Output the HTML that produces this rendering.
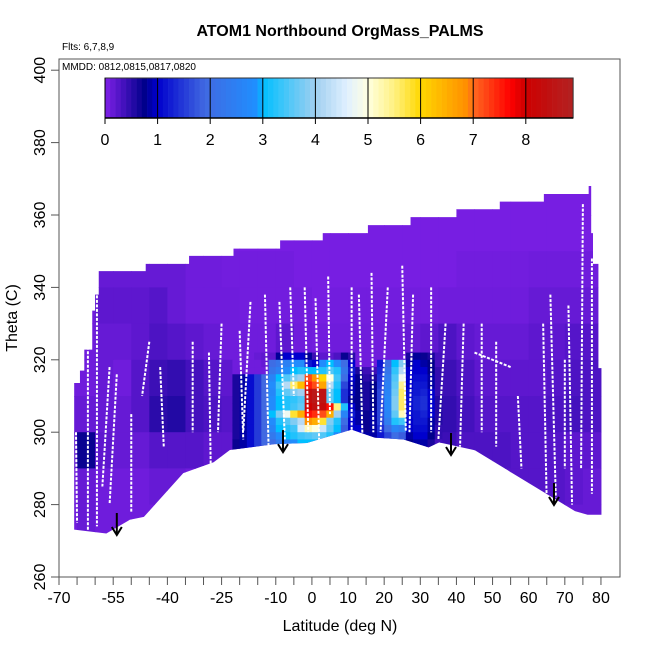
<!DOCTYPE html>
<html><head><meta charset="utf-8">
<style>
html,body{margin:0;padding:0;background:#fff;}
svg{display:block;font-family:"Liberation Sans",Arial,sans-serif;}
</style></head>
<body>
<svg id="chart" width="650" height="650" viewBox="0 0 650 650" xmlns="http://www.w3.org/2000/svg">
<text x="340" y="36" font-size="16" font-weight="bold" text-anchor="middle">ATOM1 Northbound OrgMass_PALMS</text>
<text x="62" y="50" font-size="10">Flts: 6,7,8,9</text>
<rect x="59" y="59" width="561" height="518" fill="none" stroke="#555" stroke-width="1"/>
<text x="62" y="70" font-size="10">MMDD: 0812,0815,0817,0820</text>
<g id="heat" clip-path="url(#env)"></g>
<g id="traces" clip-path="url(#env)"></g>
<g id="arrows"></g>
<g id="cbar"></g>
<g id="axes"></g>
<text transform="translate(17,318) rotate(-90)" font-size="16" text-anchor="middle">Theta (C)</text>
<text x="340" y="631" font-size="16" text-anchor="middle">Latitude (deg N)</text>
<defs><clipPath id="env"><path id="envPath" d=""/></clipPath></defs>
</svg>
<script>
// ---- data ----
const stepLat = [-65.8,-64.2,-63,-60.8,-60,-59,-46,-34,-21.7,-8.8,3,15.5,27.3,40,52,64.2,76.6,77.3,77.8,79.3];
const stepTheta = [313.6,317,322.8,333.6,338,344.5,346.5,348.7,350.7,353,355,357.2,359.4,361.6,363.7,365.8,368,355,346.5,317.7];
const stepEndLat = 80.3;
const botLat = [80.3,76.3,72.8,45.1,35.2,32.3,25.4,17.4,11.0,-1.4,-10.3,-22.7,-27.2,-35.6,-46.5,-50.4,-56.9,-65.8];
const botTheta = [277.2,277.2,278.2,295.0,297.2,295.8,298.0,298.5,300.7,297.0,296.7,295.1,291.7,288.7,276.6,275.8,272.0,273.1];
const bgLatStart = -70, bgLatStep = 5, bgThetaTop = 370, bgThetaStep = 10;
const bgVals = [
[.05,.05,.05,.05,.05,.05,.05,.05,.05,.05,.05,.05,.05,.05,.05,.05,.05,.05,.05,.05,.05,.05,.05,.05,.05,.05,.05,.05,.05,.05],
[.05,.05,.05,.05,.05,.05,.05,.05,.05,.05,.05,.05,.05,.05,.05,.05,.05,.05,.05,.05,.05,.05,.05,.05,.05,.05,.05,.05,.05,.05],
[.1,.1,.15,.15,.15,.15,.15,.1,.1,.08,.08,.08,.08,.05,.05,.05,.05,.05,.05,.05,.05,.05,.08,.08,.08,.08,.1,.1,.1,.1],
[.1,.1,.2,.2,.2,.25,.15,.1,.1,.1,.08,.08,.08,.08,.05,.08,.08,.08,.08,.08,.08,.1,.1,.1,.1,.1,.15,.15,.15,.15],
[.1,.1,.15,.15,.2,.3,.25,.2,.15,.1,.1,.1,.2,.1,.08,.1,.1,.1,.1,.15,.2,.3,.2,.15,.15,.15,.2,.2,.25,.25],
[.1,.1,.15,.1,.25,.4,.45,.35,.25,.2,.1,.1,.15,.1,.1,.1,.15,.2,.2,.3,.35,.4,.3,.2,.2,.2,.2,.25,.3,.3],
[.15,.15,.15,.15,.25,.5,.55,.35,.3,.25,.15,.15,.15,.1,.1,.15,.2,.25,.3,.35,.4,.45,.35,.25,.25,.25,.25,.3,.35,.3],
[.2,.7,.2,.15,.15,.25,.25,.25,.2,.2,.15,.15,.15,.15,.15,.15,.2,.25,.3,.35,.35,.4,.3,.3,.3,.25,.25,.25,.2,.2],
[.1,.15,.1,.1,.1,.15,.15,.1,.1,.1,.1,.1,.1,.1,.1,.1,.1,.1,.1,.1,.1,.15,.25,.25,.25,.25,.25,.25,.2,.15],
[.1,.15,.1,.1,.1,.1,.1,.1,.1,.1,.1,.1,.1,.1,.1,.1,.1,.1,.1,.1,.1,.1,.1,.1,.1,.1,.15,.15,.15,.15]
];
const coreLatStart = -22, coreLatStep = 2, coreThetaTop = 322, coreThetaStep = 2;
const coreCols = [
[.1,.1,.1,.6,.6,.6,.6,.6,.6,.6,.6,.6,.7,.7],
[.1,.1,.1,.85,.85,.85,.85,.85,.85,.85,.85,.85,.85,.85],
[.1,.1,.1,1.1,1.1,1.1,1.1,1.1,1.1,1.1,1.1,1.1,1.1,1.1],
[.15,.1,.1,1.5,1.5,1.5,1.5,1.5,1.5,1.5,1.5,1.5,1.5,1.5],
[.2,.15,.1,1.9,1.9,1.9,1.9,1.9,1.9,1.9,1.9,1.9,1.9,1.9],
[.2,2.0,2.2,2.6,2.8,2.7,2.8,2.8,3.0,2.8,2.6,2.3,2.0,2.0],
[.8,2.2,2.5,3.0,3.4,3.2,3.0,3.0,3.8,3.2,3.0,2.8,2.4,2.2],
[1.0,2.5,2.8,3.5,4.2,3.6,3.2,3.2,4.8,3.5,3.2,3.0,2.6,2.4],
[1.0,2.8,3.0,3.8,5.6,3.8,3.3,3.4,5.8,3.8,3.4,3.2,2.8,2.6],
[1.0,2.8,3.2,4.0,6.3,4.0,3.5,3.6,6.5,4.2,4.5,3.4,3.0,2.8],
[.8,1.2,3.0,7.2,7.5,8.3,8.3,8.0,7.6,6.8,5.2,3.5,3.0,2.6],
[.4,1.0,3.0,6.8,7.2,8.6,8.6,8.4,7.4,6.5,5.0,3.6,3.0,2.8],
[.2,2.8,3.2,6.0,6.6,8.5,8.5,8.3,7.2,5.8,4.4,3.5,3.0,3.0],
[.2,3.0,3.5,5.0,4.2,3.6,3.6,7.6,6.5,3.8,3.6,3.2,3.0,2.8],
[.3,2.8,3.2,3.4,3.2,3.0,3.0,5.5,4.0,3.2,3.0,2.8,2.5,2.4],
[.7,2.0,2.2,2.0,1.6,1.4,1.4,3.2,2.6,2.0,1.8,1.8,1.6,1.5],
[.5,1.0,1.2,1.0,.9,.9,.8,1.0,1.2,1.0,1.0,1.2,1.2,.2],
[.1,.1,.6,.75,.75,.75,.75,.75,.85,.85,1.0,1.0,.5,.2],
[.1,.1,.4,.5,.6,.6,.6,.6,.7,.7,.7,.85,.4,.2],
[.1,.1,.4,.6,.75,.75,.75,.75,.85,.85,.85,.85,.4,.2],
[.1,1.2,1.3,1.4,1.5,1.6,1.6,1.6,1.6,1.6,1.4,1.2,1.0,.3],
[.1,2.0,2.2,2.4,2.5,2.6,2.7,2.7,2.6,2.4,2.0,1.6,1.2,1.0],
[.1,3.0,3.3,3.5,3.6,3.7,3.8,3.8,3.6,3.2,2.6,2.0,1.4,1.0],
[.1,3.8,4.2,4.8,5.4,5.6,5.6,5.6,5.2,3.4,2.4,1.8,1.2,1.0],
[.6,.85,1.0,1.0,1.0,1.1,1.1,1.1,1.1,1.0,1.0,.85,.75,.5],
[.8,1.0,1.0,1.1,1.2,1.2,1.3,1.3,1.2,1.2,1.1,1.0,.85,.5],
[.7,.85,1.0,1.1,1.2,1.3,1.4,1.4,1.3,1.2,1.1,1.0,.85,.5],
[.6,.75,.75,.85,.85,1.0,1.0,1.0,1.0,.85,.85,.75,.6,.4],
[.35,.35,.45,.45,.45,.45,.55,.55,.55,.55,.45,.45,.35,.35]
];
const traceLat0 = [-65.3,-62,-59.5,-56,-54,-50,-45,-42,-33,-28.5,-25,-20,-17,-13,-9,-6,-2,1,4.5,11,13,16.5,21,25,28,33,37,42,47,51,57,64,66,70,75,77.5,71,45];
const traceTh0 = [300,341,344,318,316,305,325,318,325,322,330,328,336,338,336,340,340,337,343,340,338,344,340,346,338,340,330,330,330,325,310,330,338,320,363,348,335,322];
const traceLat1 = [-65,-62,-59.5,-58,-56,-50,-47,-41,-33,-28,-26,-19,-19,-12,-7.5,-5,-1,2,5,11,14,17,19,26,27,33,35,41,47,51,58,65,67.5,70,74.5,77.5,72,55];
const traceTh1 = [275,273,274,285,280,278,310,296,300,290,300,298,300,296,298,310,300,298,305,300,298,300,300,300,300,300,298,296,300,296,290,280,282,290,290,283,280,318];
const arrowLat = [-54,-8,38.5,67];
const arrowTheta = [271.6,294.5,293.7,279.9];
const cbTicks = [0,1,2,3,4,5,6,7,8];
const xTickLabels = [-70,-55,-40,-25,-10,0,10,20,30,40,50,60,70,80];
const yTickLabels = [260,280,300,320,340,360,380,400];

// ---- scales ----
const X = lat => 59 + (lat + 70) * 3.613;
const Y = th => 577 - (th - 260) * 3.62;
const CB = v => 105 + v * 52.6;
const NS = 'http://www.w3.org/2000/svg';
const stops = [[0,[128,32,232]],[0.75,[0,0,139]],[1,[0,0,205]],[1.9,[65,105,225]],[2.9,[30,144,255]],[3,[0,191,255]],[4,[160,207,240]],[4.6,[224,240,255]],[5,[255,255,224]],[5.5,[255,240,128]],[6,[255,215,0]],[6.9,[255,140,0]],[7,[255,106,32]],[7.7,[255,0,0]],[8,[205,0,0]],[8.9,[178,34,34]]];
function cmap(v){
  v = Math.max(0, Math.min(8.9, v));
  for (let i=0;i<stops.length-1;i++){
    const a=stops[i], b=stops[i+1];
    if (v<=b[0]){const t=(v-a[0])/(b[0]-a[0]);
      const c=a[1].map((x,k)=>Math.round(x+(b[1][k]-x)*t));
      return `rgb(${c[0]},${c[1]},${c[2]})`;}
  }
  return 'rgb(178,34,34)';
}
function mk(tag, attrs, parent){const e=document.createElementNS(NS,tag);for(const k in attrs)e.setAttribute(k,attrs[k]);parent.appendChild(e);return e;}

// envelope
let d = `M${X(stepLat[0])},${Y(botTheta[botTheta.length-1])}`;
for (let i=0;i<stepLat.length;i++){
  const l1 = i<stepLat.length-1 ? stepLat[i+1] : stepEndLat;
  d += ` L${X(stepLat[i])},${Y(stepTheta[i])} L${X(l1)},${Y(stepTheta[i])}`;
}
for (let i=0;i<botLat.length;i++) d += ` L${X(botLat[i])},${Y(botTheta[i])}`;
d += ' Z';
document.getElementById('envPath').setAttribute('d', d);

const heat = document.getElementById('heat');
bgVals.forEach((row, r) => {
  row.forEach((v, c) => {
    const l0 = bgLatStart + c*bgLatStep, t1 = bgThetaTop - r*bgThetaStep;
    const el = mk('rect', {x:X(l0), y:Y(t1), width:X(l0+bgLatStep)-X(l0)+0.5, height:Y(t1-bgThetaStep)-Y(t1)+0.5, fill:cmap(v)}, heat);
    
    
  });
});
coreCols.forEach((col, c) => {
  col.forEach((v, r) => {
    const l0 = coreLatStart + c*coreLatStep, t1 = coreThetaTop - r*coreThetaStep;
    const el = mk('rect', {x:X(l0), y:Y(t1), width:X(l0+coreLatStep)-X(l0)+0.4, height:Y(t1-coreThetaStep)-Y(t1)+0.4, fill:cmap(v)}, heat);
    
    
  });
});

const traces = document.getElementById('traces');
traceLat0.forEach((l, i) => {
  const el = mk('line', {x1:X(l), y1:Y(traceTh0[i]), x2:X(traceLat1[i]), y2:Y(traceTh1[i]), stroke:'#fff', 'stroke-width':2, 'stroke-dasharray':'3 1.5'}, traces);
  
  
});

const arrows = document.getElementById('arrows');
arrowLat.forEach((l, i) => {
  const x = X(l), y = Y(arrowTheta[i]);
  const g = mk('g', {}, arrows);
  
  
  mk('line', {x1:x, y1:y-22, x2:x, y2:y-1, stroke:'#000', 'stroke-width':2}, g);
  mk('polyline', {points:`${x-5},${y-8} ${x},${y} ${x+5},${y-8}`, fill:'none', stroke:'#000', 'stroke-width':2}, g);
});

// color bar
const cb = document.getElementById('cbar');
for (let k=0;k<89;k++){
  const v = k/10;
  const el = mk('rect', {x:CB(v), y:78, width:CB(v+0.1)-CB(v)+0.3, height:40, fill:cmap(v+0.05)}, cb);
  
  
}
mk('rect', {x:CB(0), y:78, width:CB(8.9)-CB(0), height:40, fill:'none', stroke:'#333', 'stroke-width':1}, cb);
cbTicks.forEach(t => {
  const l = mk('line', {x1:CB(t), y1:78, x2:CB(t), y2:124, stroke:'#000', 'stroke-width':1}, cb);
  
  
  const tx = mk('text', {x:CB(t), y:145, 'font-size':16, 'text-anchor':'middle'}, cb);
  tx.textContent = t;
  
  
});
mk('line', {x1:CB(0), y1:118, x2:CB(8.9), y2:118, stroke:'#000', 'stroke-width':1.5}, cb);

// axes
const ax = document.getElementById('axes');
for (let l=-70;l<=80;l+=5){
  const t = mk('line', {x1:X(l), y1:577, x2:X(l), y2:585, stroke:'#555'}, ax);
  
  
}
xTickLabels.forEach(l => {
  const t = mk('text', {x:X(l), y:603, 'font-size':16, 'text-anchor':'middle'}, ax);
  t.textContent = l;
  
  
});
yTickLabels.forEach(v => {
  const t = mk('line', {x1:51, y1:Y(v), x2:59, y2:Y(v), stroke:'#555'}, ax);
  
  
  const tx = mk('text', {transform:`translate(45,${Y(v)}) rotate(-90)`, 'font-size':16, 'text-anchor':'middle'}, ax);
  tx.textContent = v;
  
  
});
</script>
</body></html>
